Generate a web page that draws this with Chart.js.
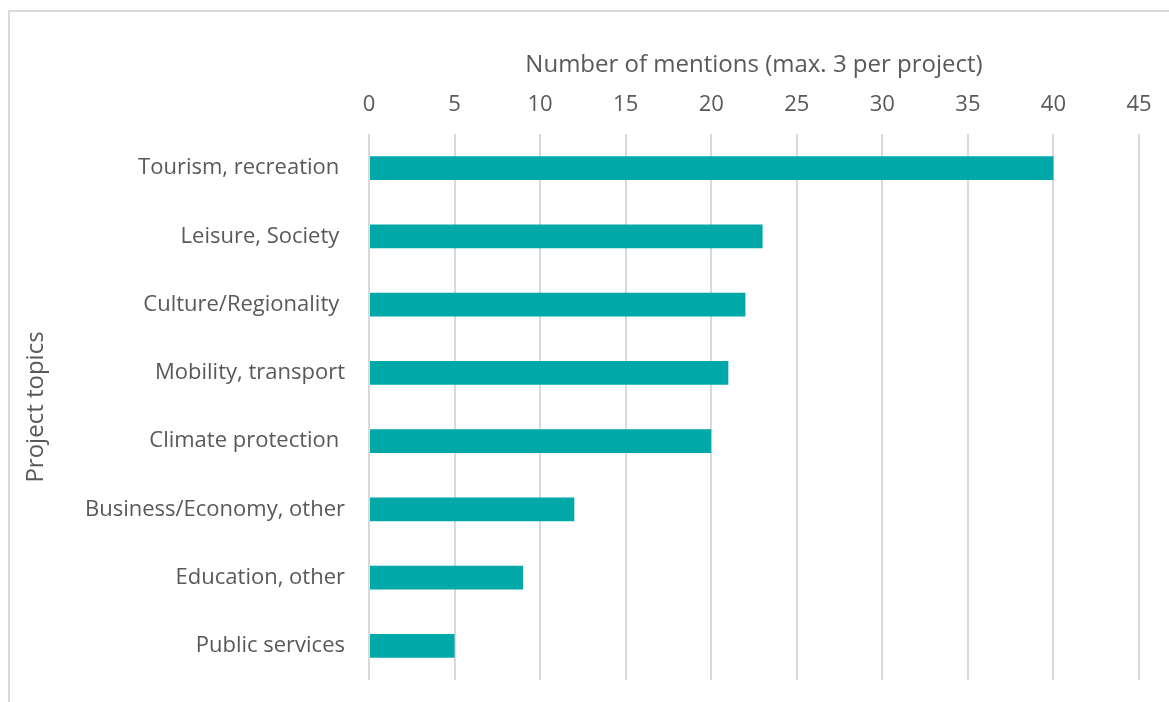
<!DOCTYPE html>
<html>
<head>
<meta charset="utf-8">
<script src="https://cdn.jsdelivr.net/npm/chart.js@4"></script>
<style>
  html, body { margin: 0; padding: 0; background: #fff; }
  #wrap { position: relative; width: 1169px; height: 702px; }
  #frame { position: absolute; left: 8px; top: 10px; right: -4px; bottom: -4px; border-top: 2px solid #d9d9d9; border-left: 2px solid #d9d9d9; }
  canvas { position: absolute; left: 0; top: 0; }
</style>
</head>
<body>
<div id="wrap">
  <div id="frame"></div>
  <canvas id="chart" width="1169" height="702"></canvas>
</div>
<script>
const categories = ['Tourism, recreation ', 'Leisure, Society ', 'Culture/Regionality ', 'Mobility, transport',
   'Climate protection ', 'Business/Economy, other', 'Education, other', 'Public services']
const mentions = [40, 23, 22, 21, 20, 12, 9, 5]
const tickMax = 45
const tickStep = 5

const textColor = '#595959'
const fontFamily = "'Open Sans', sans-serif"

const ctx = document.getElementById('chart')
const myChart = new Chart(ctx, {
   type: 'bar',
   data: {
      labels: categories,
      datasets: [{
         data: mentions,
         backgroundColor: '#00a9a8',
         barPercentage: 0.35,
         categoryPercentage: 1
      }]
   },
   options: {
      indexAxis: 'y',
      responsive: false,
      animation: false,
      layout: { padding: { left: 18, top: 51, right: 30, bottom: 22 } },
      plugins: { legend: { display: false }, tooltip: { enabled: false } },
      scales: {
         x: {
            position: 'top',
            min: 0,
            max: tickMax,
            ticks: { stepSize: tickStep, color: textColor, font: { family: fontFamily, size: 22 }, padding: 16 },
            grid: { color: '#d9d9d9', lineWidth: 2, drawTicks: false },
            border: { display: false },
            title: { display: true, text: 'Number of mentions (max. 3 per project)', color: textColor, font: { family: fontFamily, size: 24 }, padding: { top: 0, bottom: 4 } },
            afterFit: (axis) => { axis.height = 134 - 51 }
         },
         y: {
            ticks: { color: textColor, font: { family: fontFamily, size: 22 }, padding: 16 },
            grid: { display: false },
            border: { display: false },
            title: { display: true, text: 'Project topics', color: textColor, font: { family: fontFamily, size: 24 } },
            afterFit: (axis) => {
               axis.width = 369 - 18
               axis.paddingTop = 0
               axis.paddingBottom = 0
            }
         }
      }
   }
})
</script>
</body>
</html>
